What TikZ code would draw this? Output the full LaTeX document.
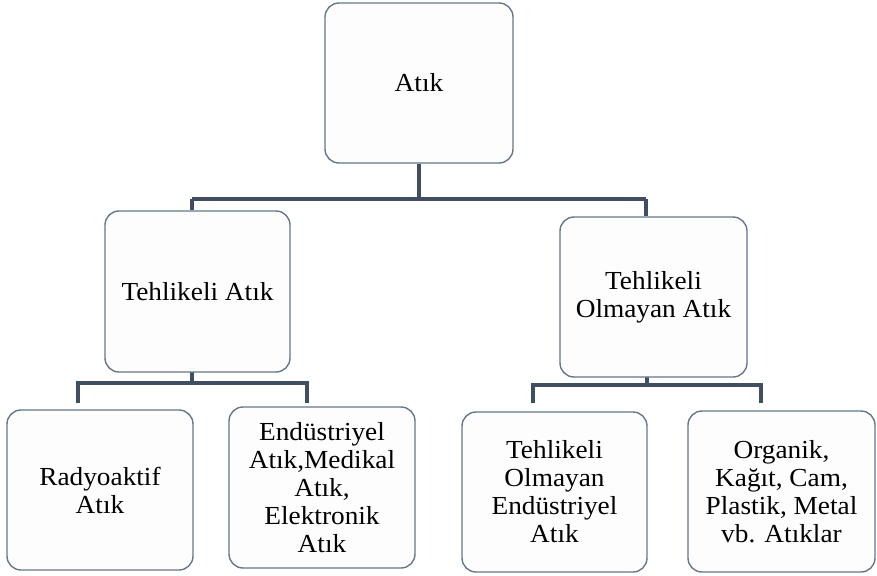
\documentclass[tikz,border=0pt]{standalone}
\usepackage{fontspec}
\setmainfont[FakeStretch=1.05]{Liberation Serif}
\usetikzlibrary{backgrounds}
\definecolor{connc}{HTML}{3F4E62}
\definecolor{boxc}{HTML}{66768B}
\definecolor{fillc}{HTML}{FDFDFD}
\begin{document}
\begin{tikzpicture}[x=1pt,y=-1pt,
  box/.style={draw=boxc, line width=1.4pt, fill=fillc, rounded corners=14pt,
    align=center, inner sep=2pt, font=\fontsize{26}{28}\selectfont, text=black},
  conn/.style={draw=connc, line width=3.2pt}]
\useasboundingbox (0,0) rectangle (877,575);
\node[box, minimum width=188pt, minimum height=160pt] (root) at (419,83) {Atık};
\node[box, minimum width=185pt, minimum height=161pt] (ta) at (197.5,291.5) {Tehlikeli Atık};
\node[box, minimum width=187pt, minimum height=160pt] (toa) at (653.5,297) {Tehlikeli\\Olmayan Atık};
\node[box, minimum width=186pt, minimum height=160pt] (r) at (100,490) {Radyoaktif\\Atık};
\node[box, minimum width=186pt, minimum height=161pt] (e) at (322,487.5) {Endüstriyel\\Atık,Medikal\\Atık,\\Elektronik\\Atık};
\node[box, minimum width=185pt, minimum height=160pt] (toe) at (554.5,492) {Tehlikeli\\Olmayan\\Endüstriyel\\Atık};
\node[box, minimum width=187pt, minimum height=161pt] (o) at (781.5,491.5) {Organik,\\Kağıt, Cam,\\Plastik, Metal\\vb. Atıklar};
\coordinate (hL) at (192,199);
\coordinate (hR) at (646,199);
\coordinate (lL) at (78,383);
\coordinate (lR) at (307,383);
\coordinate (rL) at (533,385);
\coordinate (rR) at (761,385);
\coordinate (lLe) at (78,403);
\coordinate (lRe) at (307,403);
\coordinate (rLe) at (533,403);
\coordinate (rRe) at (761,403);
\coordinate (lM) at (192,371);
\coordinate (rM) at (647,376);
\begin{scope}[on background layer]
\draw[conn] (root.south) -- (root.south |- hL);
\draw[conn] (hL) -- (hR);
\draw[conn] (hL) -- (hL |- ta.north);
\draw[conn] (hR) -- (hR |- toa.north);
\draw[conn] (lM) -- (lM |- lL);
\draw[conn] (lLe) -- (lL) -- (lR) -- (lRe);
\draw[conn] (rM) -- (rM |- rL);
\draw[conn] (rLe) -- (rL) -- (rR) -- (rRe);
\end{scope}
\end{tikzpicture}
\end{document}
